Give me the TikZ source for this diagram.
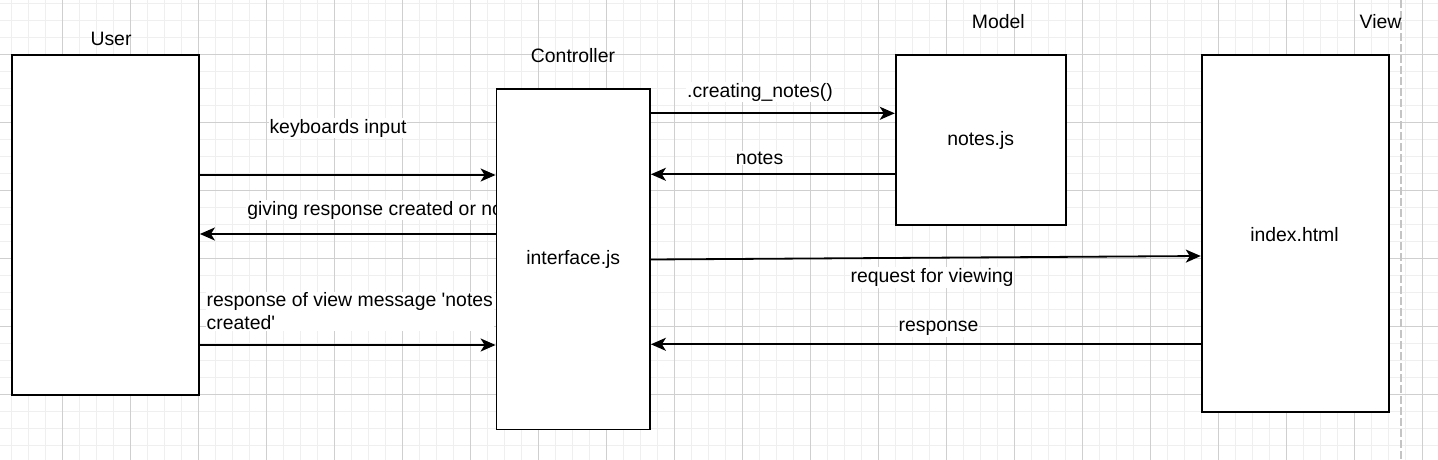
\documentclass[tikz,border=0pt]{standalone}
\usepackage{fontspec}
\setmainfont{Liberation Sans}
\usetikzlibrary{arrows.meta,calc}
\definecolor{gridminor}{HTML}{EFEFEF}
\definecolor{gridmajor}{HTML}{CFCFCF}
\definecolor{pageline}{HTML}{C4C4C4}
\begin{document}
\begin{tikzpicture}[x=1pt,y=-1pt,
  every node/.style={font=\fontsize{19.4}{23}\selectfont},
  box/.style={draw=black,line width=1.8pt,fill=white,inner sep=0pt},
  arr/.style={line width=1.8pt,-{Stealth[length=15pt,width=13pt,inset=4pt]}},
  lbl/.style={fill=white,inner sep=1pt},
  ttl/.style={inner sep=0pt}]
\useasboundingbox (0,0) rectangle (1438,460);
\fill[white] (0,0) rectangle (1438,460);
% grid
\foreach \i in {-3,...,81} \draw[gridminor,line width=1.5pt] ({62.7+17*\i},0) -- ({62.7+17*\i},460);
\foreach \j in {-3,...,24} \draw[gridminor,line width=1.5pt] (0,{54.3+17*\j}) -- (1438,{54.3+17*\j});
\foreach \i in {-1,...,20} \draw[gridmajor,line width=1.1pt] ({62.7+68*\i},0) -- ({62.7+68*\i},460);
\foreach \j in {-1,...,6} \draw[gridmajor,line width=1.1pt] (0,{54.3+68*\j}) -- (1438,{54.3+68*\j});
% page boundary
\draw[pageline,line width=1.8pt,dash pattern=on 8pt off 3pt] (1400.7,0) -- (1400.7,460);

% box centres
\coordinate (uc) at (105.35,225);
\coordinate (cc) at (573.25,259.4);
\coordinate (mc) at (980.7,140);
\coordinate (vc) at (1295.5,233.5);

% connector levels
\coordinate (r1) at (0,175);
\coordinate (r2) at (0,234);
\coordinate (r3) at (0,345);
\coordinate (r4) at (0,113.3);
\coordinate (r5) at (0,174.3);
\coordinate (r6a) at (0,259.5);
\coordinate (r6b) at (0,256);
\coordinate (r7) at (0,344.3);

% boxes
\node[box,minimum width=187.3pt,minimum height=340pt] (user) at (uc) {};
\node[box,minimum width=170pt,minimum height=170pt] (model) at (mc) {notes.js};
\node[box,minimum width=187.6pt,minimum height=357pt] (view) at (vc) {};
\node[inner sep=0pt] (viewtxt) at (1294.5,235) {index.html};

% label partly hidden behind the controller box
\node[lbl,anchor=west] (lgive) at (246.2,210) {giving response created or not};

\node[box,minimum width=153.5pt,minimum height=340pt] (ctrl) at (cc) {interface.js};

% connectors
\draw[arr] (user.east |- r1) -- (ctrl.west |- r1);
\draw[arr] (ctrl.west |- r2) -- (user.east |- r2);
\draw[arr] (user.east |- r3) -- (ctrl.west |- r3);
\draw[arr] (ctrl.east |- r4) -- (model.west |- r4);
\draw[arr] (model.west |- r5) -- (ctrl.east |- r5);
\draw[arr] (ctrl.east |- r6a) -- (view.west |- r6b);
\draw[arr] (view.west |- r7) -- (ctrl.east |- r7);

% connector labels
\node[lbl] (lkey) at (338,128) {keyboards input};
\node[lbl,anchor=west,align=left] (lresp) at (205.5,311.5) {response of view message \textquotesingle notes\\created\textquotesingle};
\node[lbl] (lcreate) at (760,92) {.creating\_notes()};
\node[lbl] (lnotes) at (759.5,158) {notes};
\node[lbl] (lreq) at (932,277.5) {request for viewing};
\node[lbl] (lresponse) at (938.5,328.3) {response};

% titles
\node[ttl] (tuser) at (111,39.3) {User};
\node[ttl] (tctrl) at (573,56) {Controller};
\node[ttl] (tmodel) at (998.3,21.7) {Model};
\node[ttl] (tview) at (1380.5,22) {View};
\end{tikzpicture}
\end{document}
